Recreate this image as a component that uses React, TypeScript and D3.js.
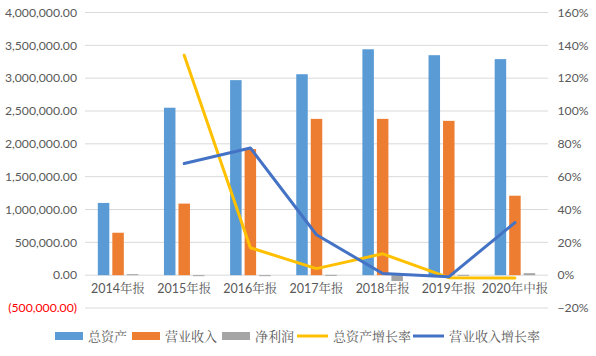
import React from "react";
import * as d3 from "d3";

const categories = ["2014年报", "2015年报", "2016年报", "2017年报", "2018年报", "2019年报", "2020年中报"];
const totalAssets = [1100000, 2550000, 2970000, 3060000, 3440000, 3350000, 3290000];
const revenue = [646000, 1090000, 1920000, 2380000, 2380000, 2350000, 1210000];
const netProfit = [15000, -5000, -15000, 5000, -90000, 5000, 30000];
const assetGrowth = [null, 1.34, 0.167, 0.04, 0.13, -0.015, -0.018];
const revenueGrowth = [null, 0.68, 0.775, 0.246, 0.01, -0.01, 0.32];
const leftTicks = [-500000, 0, 500000, 1000000, 1500000, 2000000, 2500000, 3000000, 3500000, 4000000];
const rightTicks = [-0.2, 0, 0.2, 0.4, 0.6, 0.8, 1.0, 1.2, 1.4, 1.6];
const barSeries = ["总资产", "营业收入", "净利润"];
const lineSeries = ["总资产增长率", "营业收入增长率"];

const W = 596, H = 356;
const left = 85, right = 548, top = 12.5, bottom = 308;
const font = "Lato, 'Noto Sans CJK SC', sans-serif";
const cjk = "'Noto Serif CJK SC', 'Noto Sans CJK SC', serif";

export default function App() {
  const x = d3.scaleBand<string>().domain(categories).range([left, right]);
  const yL = d3.scaleLinear().domain([-500000, 4000000]).range([bottom, top]);
  const yR = d3.scaleLinear().domain([-0.2, 1.6]).range([bottom, top]);
  const barColors = ["#5B9BD5", "#ED7D31", "#A5A5A5"];
  const lineColors = ["#FFC000", "#4472C4"];
  const bw = 11.5, step = 14.5;
  const barData = [totalAssets, revenue, netProfit];
  const fmt = (v: number) => {
    const s = d3.format(",.2f")(Math.abs(v));
    return v < 0 ? `(${s})` : s;
  };
  const lineGen = d3
    .line<[string, number | null]>()
    .defined((d) => d[1] !== null)
    .x((d) => (x(d[0]) as number) + x.bandwidth() / 2)
    .y((d) => yR(d[1] as number));
  const lines = [assetGrowth, revenueGrowth];

  return (
    <svg width={W} height={H} style={{ position: "absolute", left: 0, top: 0, background: "#fff" }}>
      {leftTicks.map((t) => (
        <line key={"g" + t} x1={left} x2={right} y1={yL(t)} y2={yL(t)} stroke="#D9D9D9" strokeWidth={1} />
      ))}
      {leftTicks.map((t) => (
        <text key={"l" + t} x={77} y={yL(t)} dy="0.35em" textAnchor="end" fontFamily={font} fontSize={12.2}
          fill={t < 0 ? "#FF0000" : "#595959"}>{fmt(t)}</text>
      ))}
      {rightTicks.map((t) => (
        <text key={"r" + t} x={557.5} y={yR(t)} dy="0.35em" textAnchor="start" fontFamily={font} fontSize={12.2}
          fill="#595959">{d3.format(".0%")(t)}</text>
      ))}
      {barData.map((series, si) =>
        series.map((v, i) => {
          const cx = (x(categories[i]) as number) + x.bandwidth() / 2 + (si - 1) * step;
          const y0 = yL(0), y1 = yL(v);
          return (
            <rect key={`b${si}-${i}`} x={cx - bw / 2} y={Math.min(y0, y1)} width={bw}
              height={Math.max(Math.abs(y1 - y0), 1)} fill={barColors[si]} />
          );
        })
      )}
      {lines.map((s, li) => (
        <path key={"ln" + li} d={lineGen(categories.map((c, i) => [c, s[i]])) || ""} fill="none"
          stroke={lineColors[li]} strokeWidth={3} strokeLinejoin="round" strokeLinecap="round" />
      ))}
      {categories.map((c) => (
        <text key={"c" + c} x={(x(c) as number) + x.bandwidth() / 2} y={293} textAnchor="middle"
          fontFamily={font} fontSize={12.5} fill="#595959">
          {c.match(/^\d+/)![0]}
          <tspan fontFamily={cjk}>{c.replace(/^\d+/, "")}</tspan>
        </text>
      ))}
      {(() => {
        const items: { name: string; type: string; color: string; x: number }[] = [
          { name: barSeries[0], type: "bar", color: barColors[0], x: 55 },
          { name: barSeries[1], type: "bar", color: barColors[1], x: 132 },
          { name: barSeries[2], type: "bar", color: barColors[2], x: 222 },
          { name: lineSeries[0], type: "line", color: lineColors[0], x: 297 },
          { name: lineSeries[1], type: "line", color: lineColors[1], x: 413 },
        ];
        const ly = 336;
        return items.map((it) => (
          <g key={"lg" + it.name}>
            {it.type === "bar" ? (
              <rect x={it.x} y={ly - 4} width={28} height={8} fill={it.color} />
            ) : (
              <line x1={it.x} x2={it.x + 31} y1={ly} y2={ly} stroke={it.color} strokeWidth={3} />
            )}
            <text x={it.x + (it.type === "bar" ? 33 : 36)} y={ly} dy="0.35em" fontFamily={cjk}
              fontSize={13} fill="#595959">{it.name}</text>
          </g>
        ));
      })()}
    </svg>
  );
}
